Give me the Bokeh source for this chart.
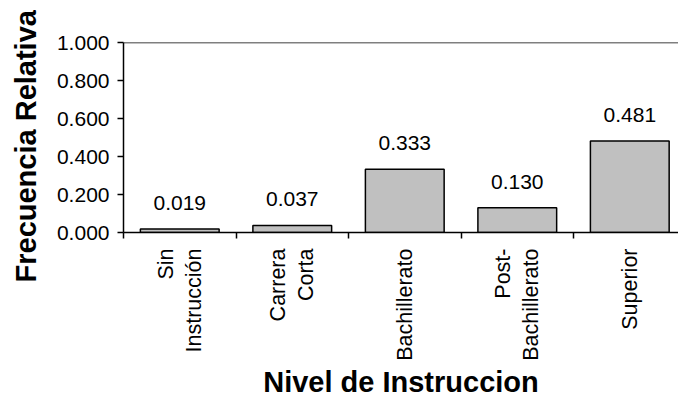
import math
from bokeh.plotting import figure
from bokeh.models import Range1d, FixedTicker, Span, Title
from bokeh.embed import file_html
from bokeh.resources import INLINE

categories = ["Sin\nInstrucción", "Carrera\nCorta", "Bachillerato", "Post-\nBachillerato", "Superior"]
values = [0.019, 0.037, 0.333, 0.130, 0.481]
value_labels = ["0.019", "0.037", "0.333", "0.130", "0.481"]
yticks = [0.0, 0.2, 0.4, 0.6, 0.8, 1.0]
ytick_labels = ["0.000", "0.200", "0.400", "0.600", "0.800", "1.000"]
x_title = "Nivel de Instruccion"
y_title = "Frecuencia Relativa"

FONT = "Liberation Sans"

xs = [i + 0.5 for i in range(len(categories))]
bounds = list(range(len(categories) + 1))

p = figure(width=678, height=400, x_range=Range1d(0, 4.933), y_range=Range1d(0, 1.0),
           output_backend="svg", toolbar_location=None,
           min_border_left=123, min_border_right=0, min_border_top=42, min_border_bottom=0)
p.outline_line_color = None
p.xgrid.visible = False
p.ygrid.visible = False
p.background_fill_color = "white"
p.border_fill_color = "white"

p.vbar(x=xs, top=values, width=0.7, bottom=0, fill_color="#C0C0C0",
       line_color="black", line_width=1.5)

p.text(x=xs, y=values, text=value_labels, text_align="center", text_baseline="alphabetic",
       y_offset=-26, text_font_size="21px", text_color="black",
       text_font={"value": FONT})

p.add_layout(Span(location=1.0, dimension="width", line_color="black", line_width=1.5))

# y axis
ya = p.yaxis[0]
ya.ticker = FixedTicker(ticks=yticks)
ya.major_label_overrides = {t: l for t, l in zip(yticks, ytick_labels)}
ya.axis_line_color = "black"
ya.axis_line_width = 1.5
ya.major_tick_out = 6
ya.major_tick_in = 0
ya.major_tick_line_width = 1.5
ya.minor_tick_out = 0
ya.minor_tick_in = 0
ya.major_label_standoff = 8
ya.major_label_text_font = FONT
ya.major_label_text_font_size = "21px"
ya.major_label_text_color = "black"

# x axis
xa = p.xaxis[0]
xa.ticker = FixedTicker(ticks=xs, minor_ticks=bounds)
xa.major_label_overrides = {x: c for x, c in zip(xs, categories)}
xa.major_label_orientation = math.pi / 2
xa.axis_line_color = "black"
xa.axis_line_width = 1.5
xa.major_tick_out = 0
xa.major_tick_in = 0
xa.minor_tick_out = 6
xa.minor_tick_in = 0
xa.minor_tick_line_width = 1.5
xa.major_label_standoff = 10
xa.major_label_text_font = FONT
xa.major_label_text_font_size = "21.5px"
xa.major_label_text_line_height = 1.15
xa.major_label_text_color = "black"
xa.axis_label = x_title
xa.axis_label_standoff = 2
xa.axis_label_text_font = FONT
xa.axis_label_text_font_size = "29px"
xa.axis_label_text_font_style = "bold"
xa.axis_label_text_color = "black"

p.add_layout(Title(text=y_title, align="left", offset=-50, vertical_align="top",
                   text_font=FONT, text_font_size="29px", text_font_style="bold",
                   text_color="black", standoff=19), "left")

open("out.html", "w").write(file_html(p, INLINE))
